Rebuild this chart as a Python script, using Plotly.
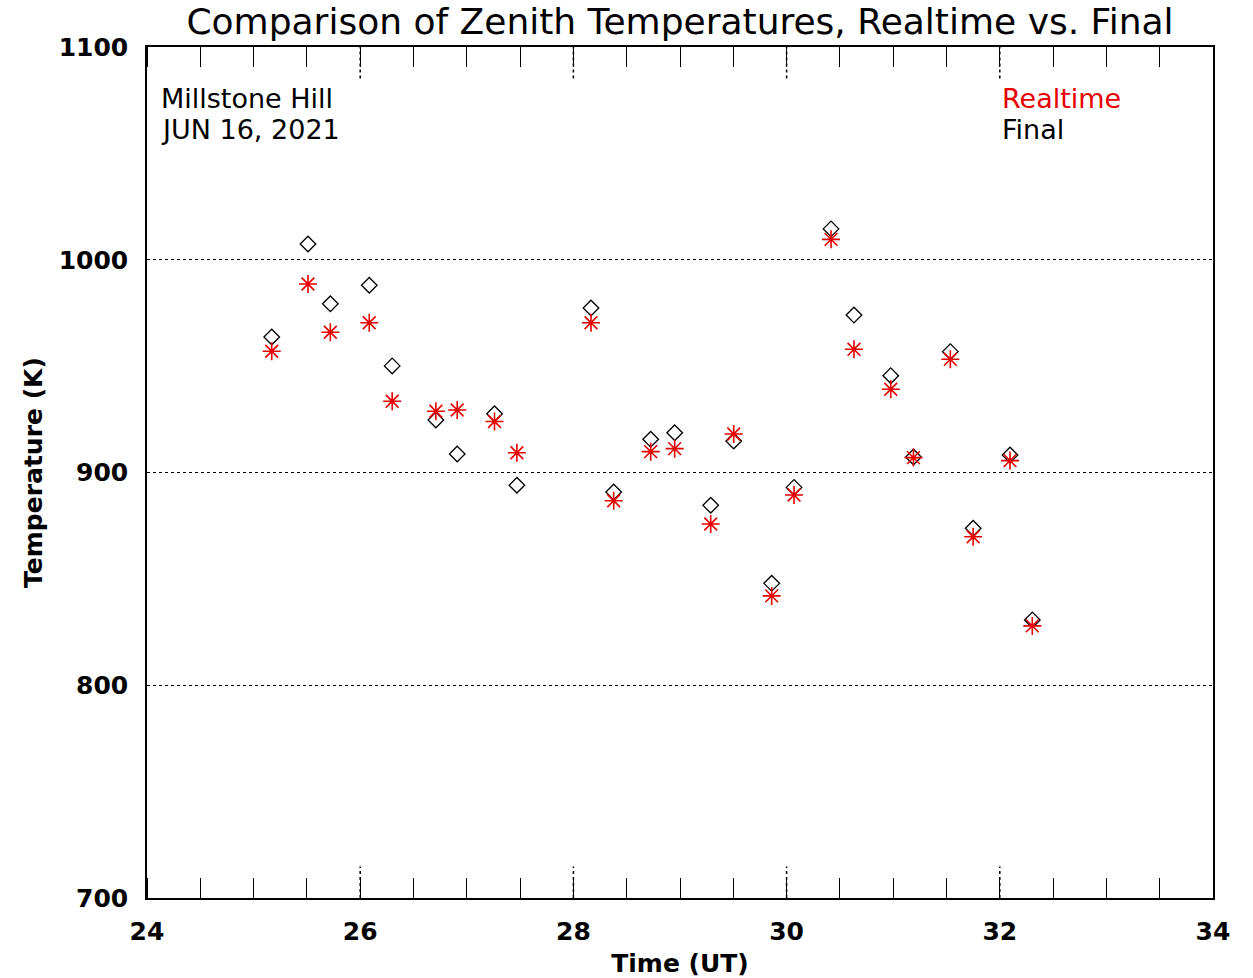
import plotly.graph_objects as go

# Data
time_ut = [25.17, 25.51, 25.72, 26.085, 26.30, 26.71, 26.91, 27.26, 27.47,
           28.165, 28.378, 28.725, 28.95, 29.288, 29.504, 29.86, 30.07,
           30.417, 30.632, 30.977, 31.19, 31.536, 31.75, 32.096, 32.305]
final_temp = [963.7, 1007.4, 979.3, 988.0, 950.1, 924.7, 908.7, 927.6, 894.0,
              977.3, 890.8, 915.6, 918.7, 884.6, 914.8, 847.9, 893.0,
              1014.5, 974.0, 945.5, 907.3, 956.8, 873.8, 908.2, 830.7]
realtime_temp = [957.0, 988.6, 965.9, 970.4, 933.5, 928.8, 929.4, 924.0, 909.3,
                 970.4, 886.7, 909.8, 911.2, 875.8, 918.1, 842.0, 889.4,
                 1009.6, 957.9, 939.1, 907.0, 953.2, 869.8, 905.6, 827.9]

x_major_ticks = [24, 26, 28, 30, 32, 34]
y_ticks = [700, 800, 900, 1000, 1100]

RED = "#e60000"
BOLD = "DejaVu Sans, Arial, sans-serif"

fig = go.Figure()
fig.add_trace(go.Scatter(
    x=time_ut, y=final_temp, mode="markers", name="Final",
    marker=dict(symbol="diamond-open", size=12, color="black",
                line=dict(color="black", width=1.3)),
))
fig.add_trace(go.Scatter(
    x=time_ut, y=realtime_temp, mode="markers", name="Realtime",
    marker=dict(symbol="asterisk-open", size=15, color=RED,
                line=dict(color=RED, width=1.6)),
))

# dotted major ticks (top and bottom), IDL style
for xv in x_major_ticks[1:-1]:
    for y0, y1 in ((0, 0.037), (0.963, 1.0)):
        fig.add_shape(type="line", xref="x", yref="y domain",
                      x0=xv, x1=xv, y0=y0, y1=y1,
                      line=dict(color="black", width=1.5, dash="dot"))

fig.update_layout(
    width=1253, height=978,
    margin=dict(l=147, r=40, t=47, b=80),
    paper_bgcolor="white", plot_bgcolor="white",
    showlegend=False,
    title=dict(text="Comparison of Zenith Temperatures, Realtime vs. Final",
               x=0.5427, xanchor="center", y=0.978, yanchor="middle",
               font=dict(family="DejaVu Sans", size=36, color="black")),
    xaxis=dict(
        range=[24, 34], tickvals=x_major_ticks,
        ticktext=[str(v) for v in x_major_ticks],
        ticks="", showgrid=False, zeroline=False, automargin=False,
        showline=True, linecolor="black", linewidth=1.5, mirror="ticks",
        minor=dict(dtick=0.5, ticks="inside", ticklen=20,
                   tickcolor="black", tickwidth=1.2, showgrid=False),
        tickfont=dict(family=BOLD, size=25, color="black", weight="bold"),
        ticklabelstandoff=10,
        title=dict(text="Time (UT)", standoff=15,
                   font=dict(family=BOLD, size=25, color="black", weight="bold")),
    ),
    yaxis=dict(
        range=[700, 1100], tickvals=y_ticks,
        ticks="", showgrid=True, gridcolor="black", gridwidth=1,
        griddash="dot", zeroline=False, automargin=False,
        showline=True, linecolor="black", linewidth=1.5, mirror=True,
        tickfont=dict(family=BOLD, size=25, color="black", weight="bold"),
        ticklabelstandoff=12,
        title=dict(text="Temperature (K)", standoff=9,
                   font=dict(family=BOLD, size=25, color="black", weight="bold")),
    ),
    annotations=[
        dict(text="Millstone Hill", xref="paper", yref="paper", x=0.011, y=0.94,
             xanchor="left", yanchor="middle", showarrow=False,
             font=dict(family="DejaVu Sans", size=27, color="black")),
        dict(text="JUN 16, 2021", xref="paper", yref="paper", x=0.011, y=0.9036,
             xanchor="left", yanchor="middle", showarrow=False,
             font=dict(family="DejaVu Sans", size=27, color="black")),
        dict(text="Realtime", xref="paper", yref="paper", x=0.80, y=0.94,
             xanchor="left", yanchor="middle", showarrow=False,
             font=dict(family="DejaVu Sans", size=27, color=RED)),
        dict(text="Final", xref="paper", yref="paper", x=0.80, y=0.9036,
             xanchor="left", yanchor="middle", showarrow=False,
             font=dict(family="DejaVu Sans", size=27, color="black")),
    ],
)

fig.write_html("out.html")
